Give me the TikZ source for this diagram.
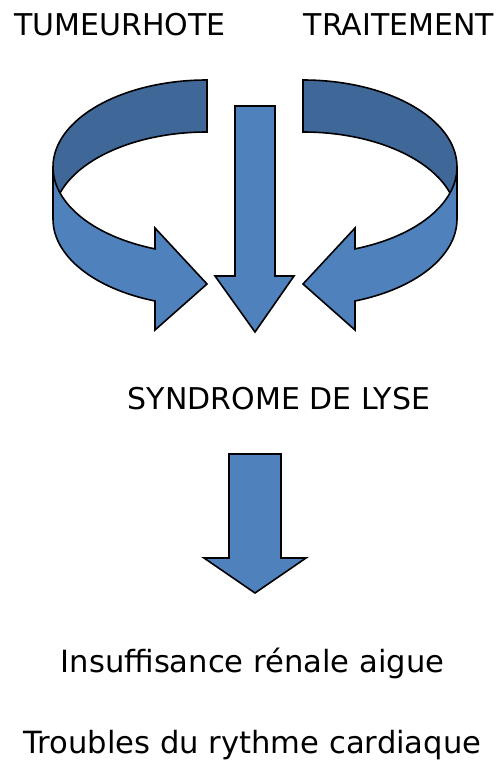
\documentclass[tikz,border=0pt]{standalone}
\usepackage{fontspec}
\setmainfont{DejaVu Sans}
\definecolor{lightblue}{HTML}{4F81BD}
\definecolor{darkblue}{HTML}{3F6797}
\begin{document}
\begin{tikzpicture}[x=1pt,y=1pt,
  front/.style={fill=lightblue,draw=black,line width=1.6pt,line join=miter},
  back/.style={fill=darkblue,draw=black,line width=1.6pt,line join=miter},
  lbl/.style={inner sep=0pt,anchor=base,font=\fontsize{30}{36}\selectfont},
  lbl2/.style={inner sep=0pt,anchor=base,font=\fontsize{30.6}{36}\selectfont}]
\useasboundingbox (0,0) rectangle (499,-760);
% left curved arrow: back band
\path[back] (207,-80) arc[start angle=90,end angle=180,x radius=154pt,y radius=87pt]
  -- (53,-219) arc[start angle=180,end angle=90,x radius=154pt,y radius=87pt] -- cycle;
% left curved arrow: front band with head
\path[front] (53,-167) arc[start angle=180,end angle=250.26,x radius=154pt,y radius=87pt]
  -- (155,-228) -- (207,-284) -- (155,-330) -- (155,-301)
  arc[start angle=250.26,end angle=180,x radius=154pt,y radius=87pt] -- cycle;
% right curved arrow: back band
\path[back] (303,-80) arc[start angle=90,end angle=0,x radius=154pt,y radius=87pt]
  -- (457,-219) arc[start angle=0,end angle=90,x radius=154pt,y radius=87pt] -- cycle;
% right curved arrow: front band with head
\path[front] (457,-167) arc[start angle=0,end angle=-70.26,x radius=154pt,y radius=87pt]
  -- (355,-228) -- (303,-284) -- (355,-330) -- (355,-301)
  arc[start angle=-70.26,end angle=0,x radius=154pt,y radius=87pt] -- cycle;
% middle down arrow
\path[front] (235,-106) -- (275,-106) -- (275,-276) -- (294,-276) -- (255,-332)
  -- (215,-276) -- (235,-276) -- cycle;
% lower down arrow
\path[front] (229,-454) -- (281,-454) -- (281,-558) -- (306,-558) -- (255,-593)
  -- (204,-558) -- (229,-558) -- cycle;
% labels
\node[lbl] (tumeur) at (120,-36) {TUMEURHOTE};
\node[lbl] (trait) at (399,-36) {TRAITEMENT};
\node[lbl] (syndrome) at (279,-409) {SYNDROME DE LYSE};
\node[lbl2] (ira) at (252.5,-672) {Insuffisance rénale aigue};
\node[lbl2] (trc) at (252.5,-753) {Troubles du rythme cardiaque};
\end{tikzpicture}
\end{document}
